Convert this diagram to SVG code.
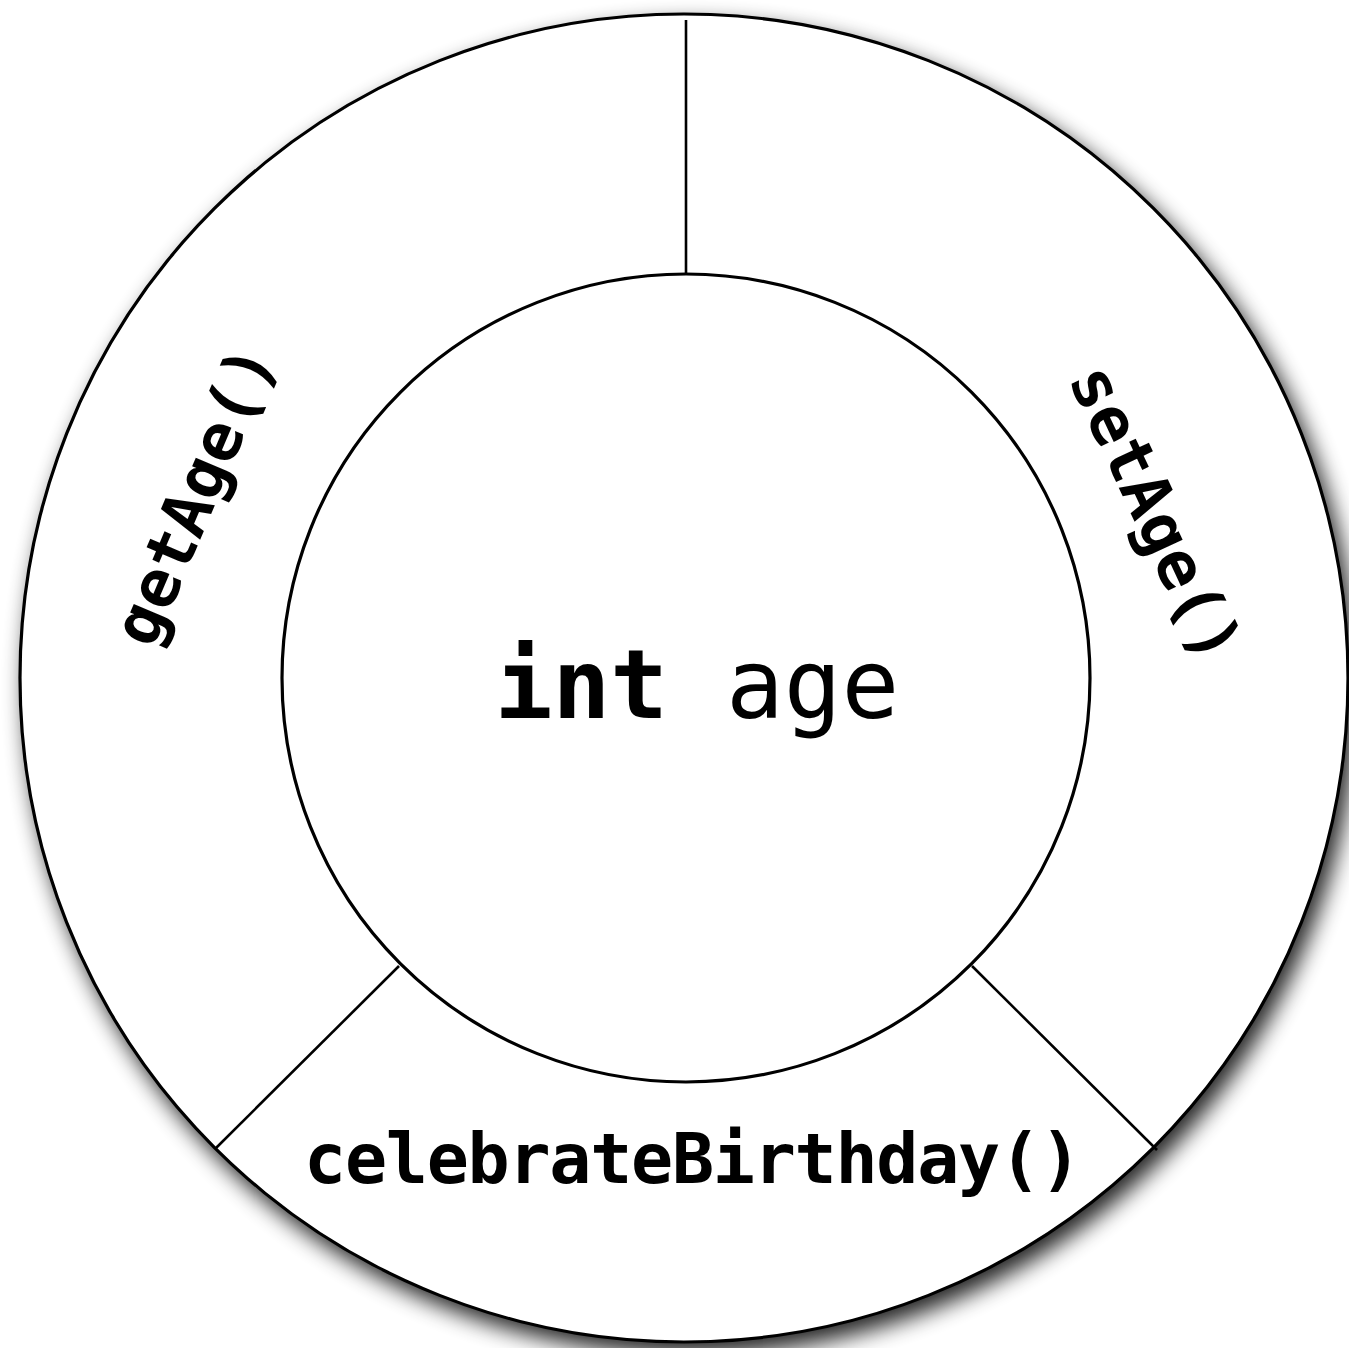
<svg xmlns="http://www.w3.org/2000/svg" width="1349" height="1348" viewBox="0 0 1349 1348">
  <defs>
    <filter id="shadow" x="-10%" y="-10%" width="120%" height="120%">
      <feGaussianBlur in="SourceAlpha" stdDeviation="11"/>
      <feOffset dx="7" dy="11" result="b"/>
      <feComponentTransfer><feFuncA type="linear" slope="0.85"/></feComponentTransfer>
      <feMerge><feMergeNode/><feMergeNode in="SourceGraphic"/></feMerge>
    </filter>
    <style>
      .ring { fill: #ffffff; stroke: #000000; stroke-width: 3.2; }
      .div { stroke: #000000; stroke-width: 2.6; fill: none; }
      .mono { font-family: "DejaVu Sans Mono", "Liberation Mono", monospace; fill: #000000; }
      .label { font-weight: bold; }
    </style>
  </defs>
  <rect width="1349" height="1348" fill="#ffffff"/>
  <g id="outer-ring">
    <circle class="ring" cx="684" cy="678" r="664" filter="url(#shadow)"/>
  </g>
  <g id="connectors">
    <line class="div" x1="686" y1="20" x2="686" y2="274"/>
    <line class="div" x1="399" y1="966" x2="216" y2="1148"/>
    <line class="div" x1="972" y1="966" x2="1157" y2="1150"/>
  </g>
  <g id="inner-field">
    <circle class="ring" cx="686" cy="678" r="404"/>
    <text class="mono" x="697" y="718" font-size="96" text-anchor="middle"><tspan font-weight="bold">int</tspan> age</text>
  </g>
  <g id="getAge">
    <text class="mono label" transform="translate(196,496) rotate(-67)" x="0" y="21" font-size="66" text-anchor="middle">getAge()</text>
  </g>
  <g id="setAge">
    <text class="mono label" transform="translate(1154,514) rotate(65)" x="0" y="21" font-size="66" text-anchor="middle">setAge()</text>
  </g>
  <g id="celebrateBirthday">
    <text class="mono label" x="693" y="1183" font-size="70" text-anchor="middle" textLength="778" lengthAdjust="spacing">celebrateBirthday()</text>
  </g>
</svg>
